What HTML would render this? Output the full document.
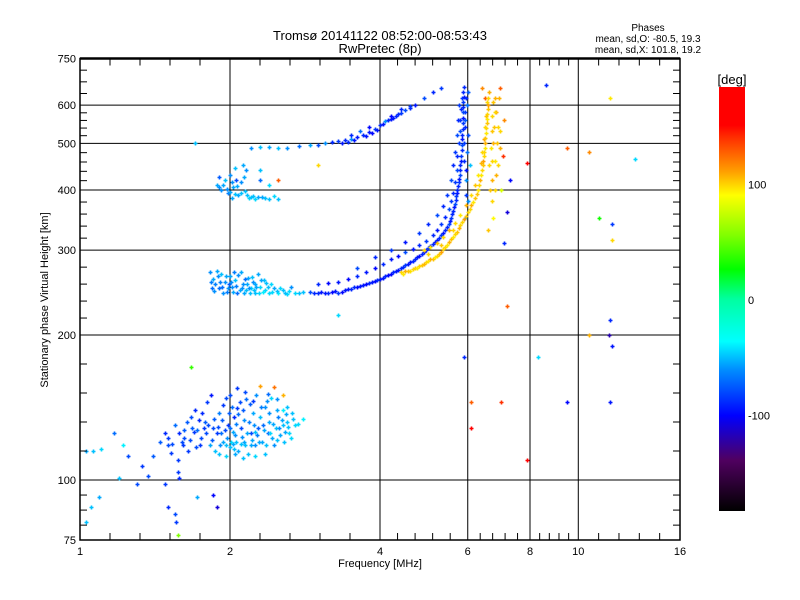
<!DOCTYPE html>
<html><head><meta charset="utf-8">
<style>
body{margin:0;background:#fff;}
svg{display:block;font-family:"Liberation Sans",sans-serif;}
</style></head>
<body>
<svg id="chart" width="800" height="600" viewBox="0 0 800 600">
<rect x="0" y="0" width="800" height="600" fill="#fff"/>
<text x="380" y="40" font-size="13" text-anchor="middle">Tromsø 20141122 08:52:00-08:53:43</text>
<text x="380" y="53" font-size="13" text-anchor="middle">RwPretec (8p)</text>
<text x="648" y="31" font-size="10" text-anchor="middle">Phases</text>
<text x="648" y="42" font-size="10" text-anchor="middle">mean, sd,O: -80.5, 19.3</text>
<text x="648" y="53" font-size="10" text-anchor="middle">mean, sd,X: 101.8, 19.2</text>
<g id="grid"></g>
<g id="marks"></g>
<g id="axes"></g>
<text x="380" y="567" font-size="11" text-anchor="middle">Frequency [MHz]</text>
<text x="0" y="0" font-size="11" text-anchor="middle" transform="translate(48,300) rotate(-90)">Stationary phase Virtual Height [km]</text>
<defs>
<linearGradient id="cbar" x1="0" y1="1" x2="0" y2="0">
<stop offset="0" stop-color="#000"/>
<stop offset="0.12" stop-color="#500060"/>
<stop offset="0.225" stop-color="#0000ff"/>
<stop offset="0.335" stop-color="#0090ff"/>
<stop offset="0.4" stop-color="#00ffff"/>
<stop offset="0.5" stop-color="#00ffa0"/>
<stop offset="0.57" stop-color="#00ff00"/>
<stop offset="0.65" stop-color="#80ff00"/>
<stop offset="0.745" stop-color="#ffff00"/>
<stop offset="0.8" stop-color="#ffa000"/>
<stop offset="0.88" stop-color="#ff3000"/>
<stop offset="0.91" stop-color="#ff0000"/>
<stop offset="1" stop-color="#ff0000"/>
</linearGradient>
</defs>
<rect x="719" y="87" width="26" height="424" fill="url(#cbar)"/>
<text x="732" y="84" font-size="13" text-anchor="middle">[deg]</text>
<g id="cbticks"></g>
</svg>
<script>
const xTicks=[1,2,4,6,8,10,16];
const xTickLabels=["1","2","4","6","8","10","16"];
const yTicks=[75,100,200,300,400,500,600,750];
const yTickLabels=["75","100","200","300","400","500","600","750"];
const xGrid=[2,4,6,8,10];
const yGrid=[100,200,300,400,500,600];
const cbTicks=[100,0,-100];
const cbTickLabels=["100","0","-100"];
// [freq MHz, height km, phase deg]
const eLayer=[[1.03,115,-55],[1.06,115,-50],[1.1,116,-45],[1.17,125,-70],[1.22,118,-40],[1.25,112,-80],[1.33,107,-85],[1.37,102,-80],[1.4,112,-75],[1.45,120,-75],[1.48,125,-90],[1.5,118,-80],[1.52,114,-85],[1.55,130,-70],[1.57,110,-85],[1.6,120,-80],[1.62,127,-75],[1.65,115,-85],[1.67,135,-80],[1.7,140,-90],[1.72,127,-70],[1.75,122,-80],[1.78,132,-75],[1.8,145,-85],[1.82,118,-55],[1.83,150,-95],[1.85,128,-80],[1.87,115,-50],[1.9,138,-65],[1.92,125,-70],[1.94,120,-55],[1.96,148,-80],[1.98,130,-85],[2.0,117,-50],[2.02,142,-70],[2.04,135,-90],[2.05,124,-60],[2.07,155,-85],[2.08,115,-55],[2.1,128,-80],[2.12,140,-75],[2.13,120,-55],[2.15,147,-70],[2.17,113,-50],[2.18,132,-65],[2.2,125,-80],[2.22,138,-55],[2.24,118,-60],[2.26,150,-60],[2.28,128,-75],[2.3,135,-50],[2.32,120,-55],[2.35,142,-60],[2.38,125,-70],[2.4,132,-55],[2.42,148,-45],[2.45,118,-60],[2.47,128,-50],[2.5,135,-65],[2.52,124,-55],[2.55,140,-40],[2.58,126,-55],[2.6,132,-50],[2.7,130,-45],[2.8,134,-40],[1.62,122,-80],[1.68,128,-75],[1.74,118,-85],[1.79,125,-80],[1.86,134,-75],[1.91,118,-60],[1.95,127,-80],[1.99,138,-75],[2.03,119,-55],[2.06,131,-65],[2.09,145,-80],[2.11,123,-60],[2.14,118,-50],[2.19,144,-75],[2.21,121,-55],[2.27,124,-65],[2.33,130,-70],[2.37,146,-60],[2.43,122,-55],[2.49,140,-55],[2.56,130,-50],[2.63,125,-45],[2.66,138,-50],[2.3,157,115],[2.45,156,125],[2.55,150,110],[1.96,118,-50],[2.01,120,-45],[2.04,116,-50],[1.88,125,-85],[1.76,138,-90],[1.64,132,-75],
[1.5,122,-85],[1.53,119,-80],[1.58,125,-90],[1.61,118,-85],[1.66,121,-80],[1.69,126,-85],[1.71,117,-80],[1.73,133,-90],[1.77,128,-85],[1.81,130,-80],[1.84,121,-75],[1.89,129,-80],[1.93,133,-75],[1.97,122,-60],[2.0,128,-70],[2.03,126,-55],[2.06,120,-50],[2.08,137,-70],[2.1,119,-50],[2.13,133,-60],[2.16,125,-55],[2.2,118,-55],[2.23,130,-60],[2.25,126,-50],[2.29,120,-55],[2.31,142,-65],[2.34,127,-55],[2.36,118,-50],[2.39,138,-60],[2.41,125,-45],[2.44,131,-55],[2.48,121,-50],[2.51,128,-60],[2.54,133,-55],[2.57,120,-50],[2.59,137,-55],[2.62,129,-50],[2.65,122,-45],[2.68,134,-50],[2.74,131,-45],[1.94,143,-85],[2.0,150,-80],[2.07,141,-85],[2.14,152,-80],[2.22,146,-85],[2.38,151,-70],[2.48,147,-60],[2.6,142,-50],[1.9,113,-50],[1.96,112,-45],[2.05,113,-55],[2.12,111,-50],[2.25,112,-45],[2.35,113,-50]];
const eScatter=[[1.05,88,-50],[1.09,92,-55],[1.2,101,-50],[1.3,98,-80],[1.48,98,-85],[1.55,85,-80],[1.5,88,-90],[1.56,82,-85],[1.72,92,-55],[1.85,93,-100],[1.88,88,-110],[1.57,77,60],[1.03,82,-50],[1.67,172,40],[1.57,104,-85],[1.58,101,-90]];
const fSpread=[[1.82,270,-60],[1.85,262,-55],[1.87,255,-65],[1.9,250,-70],[1.92,268,-50],[1.95,258,-60],[1.97,246,-65],[2.0,265,-55],[2.02,252,-60],[2.05,260,-50],[2.07,245,-70],[2.1,270,-55],[2.12,255,-60],[2.15,248,-50],[2.17,263,-55],[2.2,250,-45],[2.22,258,-60],[2.25,245,-50],[2.28,268,-55],[2.3,252,-45],[2.33,246,-40],[2.36,257,-50],[2.4,244,-45],[2.45,250,-55],[2.5,244,-40],[2.55,248,-50],[2.6,243,-45],[2.65,252,-60],[2.7,244,-45],[2.8,246,-50],[1.84,250,-70],[1.89,265,-60],[1.94,244,-60],[1.99,255,-75],[2.04,270,-65],[2.09,248,-55],[2.14,262,-70],[2.19,245,-50],[2.24,255,-55],[2.34,260,-50],[2.42,255,-45],[1.88,410,-55],[1.92,400,-60],[1.95,420,-50],[1.98,395,-65],[2.0,430,-60],[2.03,405,-55],[2.05,445,-50],[2.08,390,-55],[2.1,415,-60],[2.12,450,-55],[2.14,398,-50],[2.18,385,-45],[2.22,388,-50],[2.28,386,-55],[2.35,385,-50],[2.45,388,-45],[2.5,384,-50],[1.9,425,-75],[2.02,385,-55],[2.06,420,-80],[2.15,440,-60],[2.3,420,-70],[2.4,410,-45],[2.5,420,130],[2.3,440,-50],
[1.83,258,-65],[1.86,247,-60],[1.88,272,-55],[1.91,258,-65],[1.93,251,-70],[1.96,265,-55],[1.98,250,-60],[2.01,258,-60],[2.03,246,-55],[2.06,253,-65],[2.08,266,-60],[2.11,250,-60],[2.13,244,-55],[2.16,255,-55],[2.18,250,-60],[2.21,264,-50],[2.23,248,-50],[2.26,252,-55],[2.29,245,-45],[2.31,260,-55],[2.35,248,-45],[2.38,252,-50],[2.43,246,-45],[2.48,247,-50],[2.52,250,-45],[2.58,245,-50],[2.63,247,-45],[2.75,245,-50],[1.9,405,-60],[1.94,410,-55],[1.97,402,-60],[2.0,397,-55],[2.02,415,-60],[2.05,392,-50],[2.07,408,-55],[2.1,395,-50],[2.13,425,-55],[2.16,390,-50],[2.2,386,-50],[2.25,384,-45],[2.32,386,-55],[2.4,384,-50]];
const oTrace=[[2.9,246,-80],[3.0,245,-90],[3.1,244,-95],[3.2,246,-100],[3.3,245,-85],[3.4,248,-95],[3.5,249,-90],[3.6,252,-100],[3.7,254,-95],[3.8,256,-90],[3.9,259,-100],[4.0,262,-95],[4.1,265,-90],[4.2,268,-100],[4.3,271,-95],[4.4,275,-90],[4.5,279,-85],[4.6,283,-95],[4.7,287,-90],[4.8,292,-100],[4.9,297,-95],[5.0,303,-85],[5.1,309,-90],[5.2,315,-95],[5.3,322,-85],[5.4,330,-90],[5.5,340,-80],[5.55,350,-85],[5.6,362,-90],[5.65,375,-80],[5.68,388,-85],[5.72,400,-90],[5.75,415,-85],[5.78,430,-80],[5.8,450,-90],[5.82,470,-85],[5.83,495,-80],[5.85,520,-90],[5.86,550,-85],[5.87,580,-80],[5.88,610,-85],[5.88,640,-90],[3.0,255,-90],[3.15,256,-100],[3.3,258,-95],[3.45,261,-100],[3.6,265,-90],[3.75,270,-95],[3.9,275,-100],[4.05,281,-90],[4.2,288,-95],[4.35,292,-100],[4.5,297,-80],[4.65,302,-95],[4.8,307,-90],[4.95,314,-85],[5.1,322,-90],[5.2,330,-95],[5.3,340,-85],[5.4,352,-90],[5.5,365,-80],[5.55,380,-85],[5.6,395,-90],[5.65,415,-85],[5.7,440,-80],[5.72,470,-90],[5.75,500,-85],[5.78,530,-80],[5.8,560,-85],[5.82,590,-90],[5.83,620,-85],[3.6,275,-80],[3.9,290,-90],[4.2,300,-85],[4.5,312,-95],[4.8,325,-85],[5.0,340,-90],[5.2,355,-80],[5.35,370,-90],[5.45,390,-85],[5.55,420,-80],[5.6,450,-90],[5.66,480,-85],[5.7,520,-80],[5.73,560,-90],[5.76,600,-85],[5.95,420,-60],[5.98,480,-70],[6.0,520,-80],[5.92,560,-75],[5.97,600,-70],[6.02,380,-60],[5.93,350,-55],[6.0,640,-75],[6.05,450,-50],
[2.95,244,-90],[3.05,246,-95],[3.15,245,-90],[3.25,247,-95],[3.35,246,-100],[3.45,249,-95],[3.55,251,-90],[3.65,253,-95],[3.75,255,-100],[3.85,258,-95],[3.95,260,-90],[4.05,263,-95],[4.15,267,-100],[4.25,270,-90],[4.35,273,-95],[4.45,277,-90],[4.55,281,-95],[4.65,285,-90],[4.75,290,-95],[4.85,295,-90],[4.95,300,-95],[5.05,306,-90],[5.15,312,-95],[5.25,318,-90],[5.35,326,-95],[5.45,335,-90],[5.52,345,-95],[5.58,356,-90],[5.62,368,-95],[5.67,382,-90],[5.7,395,-95],[5.74,408,-90],[5.77,422,-95],[5.79,440,-90],[5.81,460,-95],[5.84,485,-90],[5.84,510,-95],[5.86,535,-90],[5.87,565,-95],[5.87,595,-90],[5.89,625,-95],[5.9,655,-90],[5.9,460,-90],[5.91,500,-85],[5.92,540,-90],[5.93,580,-85],[5.94,620,-90],[5.95,390,-85],[5.94,440,-95]];
const xTrace=[[4.4,270,100],[4.5,271,110],[4.6,272,95],[4.7,275,105],[4.8,278,100],[4.9,281,110],[5.0,285,95],[5.1,288,105],[5.2,292,100],[5.3,298,115],[5.4,305,100],[5.5,312,110],[5.6,320,95],[5.7,328,105],[5.8,338,100],[5.9,348,115],[6.0,360,100],[6.1,372,110],[6.2,385,105],[6.28,400,95],[6.35,420,110],[6.4,440,100],[6.45,460,115],[6.48,480,100],[6.5,500,110],[6.52,525,95],[6.55,550,105],[6.57,575,100],[6.6,600,115],[6.62,640,110],[4.9,300,100],[5.05,305,95],[5.2,310,105],[5.35,320,100],[5.5,330,110],[5.65,342,100],[5.8,355,95],[5.95,372,110],[6.1,390,100],[6.2,410,105],[6.3,430,95],[6.38,455,110],[6.42,480,100],[6.46,510,115],[6.5,540,100],[6.52,570,105],[6.55,610,100],[6.8,400,100],[6.85,430,110],[6.82,460,95],[6.88,500,105],[6.9,540,100],[6.85,580,115],[6.92,620,110],[6.95,650,130],[6.7,380,100],[6.75,350,90],[6.6,330,105],[7.05,470,140],[7.1,560,120],[6.4,650,120],[6.5,620,130],[7.0,400,80],[7.2,360,-110],[7.3,420,-100],[7.1,310,-90],
[4.45,268,95],[4.55,272,105],[4.65,274,100],[4.75,276,95],[4.85,280,105],[4.95,283,100],[5.05,287,110],[5.15,290,95],[5.25,295,105],[5.35,301,100],[5.45,308,95],[5.55,316,105],[5.65,324,100],[5.75,333,110],[5.85,343,100],[5.95,354,105],[6.05,366,100],[6.15,378,95],[6.25,392,105],[6.32,410,100],[6.38,430,95],[6.43,450,105],[6.47,470,100],[6.49,490,95],[6.51,512,105],[6.53,538,100],[6.56,562,95],[6.58,588,105],[6.6,620,100],[6.7,420,110],[6.72,460,100],[6.75,500,110],[6.78,540,105],[6.8,580,100],[6.82,620,110],[6.65,400,105],[6.62,450,100],[6.68,490,95],[6.7,530,105],[6.72,570,100],[6.75,610,105],[6.9,450,100],[6.95,490,110],[6.97,530,100],[5.0,295,100],[5.3,308,105],[5.6,330,100]];
const upperTrace=[[2.2,490,-60],[2.3,491,-50],[2.4,492,-55],[2.5,490,-50],[2.6,490,-60],[2.75,493,-70],[2.9,495,-55],[3.0,497,-80],[3.1,500,-60],[3.2,502,-90],[3.3,505,-85],[3.4,507,-90],[3.5,510,-60],[3.6,515,-95],[3.7,520,-90],[3.8,528,-95],[3.9,535,-85],[4.0,545,-90],[4.1,555,-60],[4.2,562,-95],[4.3,570,-90],[4.4,578,-85],[4.5,585,-80],[4.6,592,-90],[4.7,600,-95],[4.9,620,-80],[5.1,640,-90],[5.3,650,-85],[3.5,520,-90],[3.8,540,-100],[4.2,570,-100],[4.4,590,-90],[4.6,598,-85],[3.65,530,-70],[3.35,500,-95],[3.45,503,-90],[3.55,508,-95],[3.75,518,-95],[3.85,525,-100],[3.95,532,-95],[4.05,548,-95],[4.15,558,-90],[4.25,565,-95],[4.35,575,-90]];
const isolated=[[8.6,660,-90],[9.5,490,130],[7.9,455,150],[10.5,480,120],[11.6,620,95],[13.0,465,-45],[11.0,350,30],[11.7,340,-85],[11.7,315,100],[7.2,230,130],[10.5,200,110],[11.6,215,-90],[11.5,200,-120],[11.7,190,-95],[8.3,180,-45],[5.9,180,-90],[6.1,145,130],[7.0,145,140],[9.5,145,-100],[11.6,145,-95],[6.1,128,150],[7.9,110,155],[1.7,500,-50],[3.3,220,-45],[3.0,450,100]];
const groups=[eLayer,eScatter,fSpread,oTrace,xTrace,upperTrace,isolated];

const X0=80,X1=680,Y0=540,Y1=58.5;
function xs(f){return X0+150*Math.log2(f);}
function ys(h){return 480-145*Math.log2(h/100);}
const stops=[[-183,[0,0,0]],[-140,[80,0,96]],[-101,[0,0,255]],[-60,[0,144,255]],[-37,[0,255,255]],[0,[0,255,160]],[26,[0,255,0]],[60,[128,255,0]],[89,[255,255,0]],[115,[255,160,0]],[140,[255,48,0]],[150,[255,0,0]],[184,[255,0,0]]];
function col(p){
  for(let i=0;i<stops.length-1;i++){
    const a=stops[i],b=stops[i+1];
    if(p<=b[0]){const t=Math.max(0,(p-a[0])/(b[0]-a[0]));
      const c=a[1].map((v,k)=>Math.round(v+(b[1][k]-v)*t));
      return `rgb(${c[0]},${c[1]},${c[2]})`;}
  }
  return 'rgb(255,0,0)';
}
const NS='http://www.w3.org/2000/svg';
function el(tag,attrs,parent){const e=document.createElementNS(NS,tag);for(const k in attrs)e.setAttribute(k,attrs[k]);parent.appendChild(e);return e;}
const grid=document.getElementById('grid'),axes=document.getElementById('axes'),marks=document.getElementById('marks'),cbt=document.getElementById('cbticks');
xGrid.forEach(v=>{const l=el('line',{x1:xs(v),x2:xs(v),y1:Y1,y2:Y0,stroke:'#000','stroke-width':1},grid);

});
yGrid.forEach(v=>{const l=el('line',{x1:X0,x2:X1,y1:ys(v),y2:ys(v),stroke:'#000','stroke-width':1},grid);

});
groups.forEach(g=>g.forEach(d=>{
  const x=Math.round(xs(d[0]))+0.5,y=Math.round(ys(d[1]))+0.5,c=col(d[2]);
  const p=el('path',{d:`M${x-2},${y}H${x+2}M${x},${y-2}V${y+2}`,stroke:c,'stroke-width':1.6,fill:'none'},marks);
  
  
}));
const frame=el('rect',{x:X0,y:Y1,width:X1-X0,height:Y0-Y1,fill:'none',stroke:'#000','stroke-width':1.5},axes);


el('line',{x1:X0,x2:X1,y1:Y1,y2:Y1,stroke:'#000','stroke-width':2.5},axes);
for(let i=0;i<xTicks.length-1;i++){const a=xs(xTicks[i]),b=xs(xTicks[i+1]);
  for(let k=1;k<5;k++){const x=a+(b-a)*k/5;
    el('line',{x1:x,x2:x,y1:Y0,y2:Y0-7,stroke:'#000'},axes);el('line',{x1:x,x2:x,y1:Y1,y2:Y1+7,stroke:'#000'},axes);}}
for(let i=0;i<yTicks.length-1;i++){const a=ys(yTicks[i]),b=ys(yTicks[i+1]);const n=(i==0||i==yTicks.length-2)?4:5;
  for(let k=1;k<n;k++){const y=a+(b-a)*k/n;
    el('line',{x1:X0,x2:X0+7,y1:y,y2:y,stroke:'#000'},axes);el('line',{x1:X1,x2:X1-7,y1:y,y2:y,stroke:'#000'},axes);}}
xTicks.forEach((v,i)=>{const t=el('text',{x:xs(v),y:Y0+15,'font-size':11,'text-anchor':'middle'},axes);t.textContent=xTickLabels[i];

});
yTicks.forEach((v,i)=>{const t=el('text',{x:X0-4,y:ys(v)+4,'font-size':11,'text-anchor':'end'},axes);t.textContent=yTickLabels[i];

});
cbTicks.forEach((v,i)=>{const y=300-1.155*v;const t=el('text',{x:748,y:y+4,'font-size':11},cbt);t.textContent=cbTickLabels[i];

});
</script>
</body></html>
